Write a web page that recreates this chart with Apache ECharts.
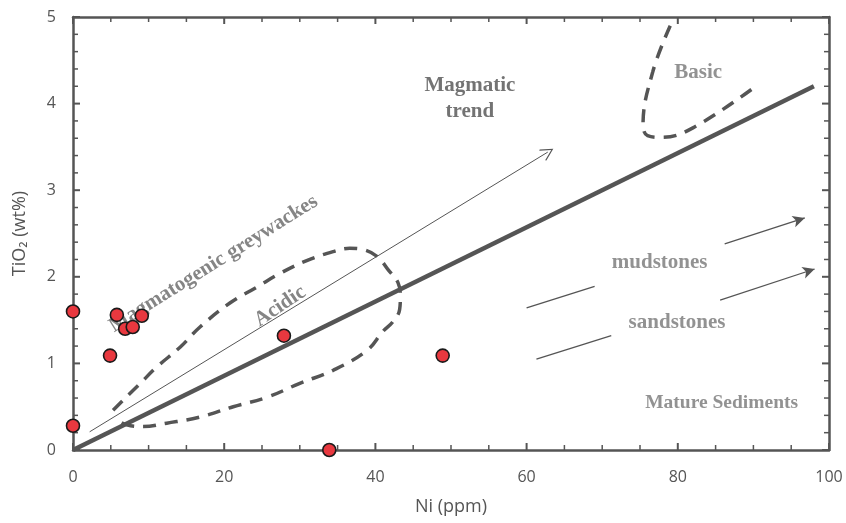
<!DOCTYPE html>
<html><head><meta charset="utf-8">
<script src="https://cdn.jsdelivr.net/npm/echarts@6/dist/echarts.min.js"></script>
<style>html,body{margin:0;padding:0;background:#fff}#c{width:846px;height:523px}</style>
</head><body><div id="c"></div>
<script>
// Samples: [Ni (ppm), TiO2 (wt%)]
const samples = [[0,1.6],[0,0.28],[4.9,1.09],[5.8,1.56],[6.9,1.4],[7.9,1.42],[9.1,1.55],[27.9,1.32],[33.9,0],[48.9,1.09]];
// Reference lines / fields
const sedimentLine = [[0,0],[98,4.2]];
const magmaticArrow = [[2.2,0.21],[62.8,3.44]];
const acidicField = [[5.3,0.46],[8.9,0.77],[11.1,0.96],[14.2,1.19],[16.8,1.42],[20.8,1.70],[24.3,1.88],[27.4,2.04],[31.0,2.19],[34.4,2.29],[36.6,2.33],[38.6,2.31],[40.3,2.23],[41.7,2.08],[43.0,1.93],[43.3,1.77],[43.2,1.62],[42.3,1.48],[41.0,1.37],[38.9,1.15],[34.4,0.92],[30.0,0.77],[25.7,0.61],[21.2,0.50],[16.8,0.38],[12.4,0.31],[9.3,0.27],[7.1,0.29],[5.8,0.35]];
const basicField = [[79.0,4.9],[76.7,4.37],[75.4,3.75],[76.0,3.63],[77.9,3.61],[82,3.72],[90,4.18]];
const mudTail = [[60,1.64],[69,1.89]];
const mudArrow = [[86.2,2.38],[96.8,2.68]];
const sandTail = [[61.3,1.05],[71.2,1.32]];
const sandArrow = [[85.6,1.73],[98.1,2.09]];
const labels = [
  {name:'Magmatic\ntrend', value:[52.5,4.06], rot:0, color:'#505050', size:21},
  {name:'Basic', value:[82.7,4.36], rot:0, color:'#777', size:21},
  {name:'Magmatogenic greywackes', value:[18.6,2.15], rot:32, color:'#666', size:21},
  {name:'Acidic', value:[27.4,1.66], rot:34, color:'#666', size:21},
  {name:'mudstones', value:[77.6,2.16], rot:0, color:'#777', size:21},
  {name:'sandstones', value:[79.9,1.47], rot:0, color:'#777', size:21},
  {name:'Mature Sediments', value:[85.8,0.54], rot:0, color:'#777', size:19.5}
];
const xTicks = [0,20,40,60,80,100];
const yTicks = [0,1,2,3,4,5];
const xMinorStep = 5;
const yMinorStep = 0.2;

const axisCol = '#555';
const chevron = 'path://M0,0 L10,13 L8.6,14 L0,2.6 L-8.6,14 L-10,13 Z';

// Build inward tick rows from the tick arrays: [x, y, dirX, dirY, lengthPx, widthPx]
const xMin = xTicks[0], xMax = xTicks[xTicks.length-1];
const yMin = yTicks[0], yMax = yTicks[yTicks.length-1];
const tickRows = [];
for (let i = 0; i <= Math.round((xMax - xMin) / xMinorStep); i++) {
  const v = xMin + i * xMinorStep;
  const major = xTicks.some(t => Math.abs(t - v) < 1e-9);
  tickRows.push([v, yMin, 0, -1, major ? 7 : 5, major ? 2 : 1.5]);
  tickRows.push([v, yMax, 0, 1, major ? 7 : 5, major ? 2 : 1.5]);
}
for (let i = 0; i <= Math.round((yMax - yMin) / yMinorStep); i++) {
  const v = +(yMin + i * yMinorStep).toFixed(6);
  const major = yTicks.some(t => Math.abs(t - v) < 1e-9);
  tickRows.push([xMin, v, 1, 0, major ? 7 : 5, major ? 2 : 1.5]);
  tickRows.push([xMax, v, -1, 0, major ? 7 : 5, major ? 2 : 1.5]);
}

const chart = echarts.init(document.getElementById('c'));
function axis(extra){
  return Object.assign({
    type:'value',
    axisLine:{show:true, onZero:false, lineStyle:{color:axisCol, width:2.5}},
    axisTick:{show:false},
    splitLine:{show:false}
  }, extra);
}
function seg(a, b){ return [{coord:a}, {coord:b}]; }
chart.setOption({
  animation:false,
  grid:{left:73, right:17, top:17, bottom:73},
  xAxis:[
    axis({min:xMin, max:xMax, interval:20, position:'bottom',
      name:'Ni (ppm)', nameLocation:'middle', nameGap:48,
      nameTextStyle:{fontFamily:'Open Sans', fontSize:18, color:axisCol},
      axisLabel:{fontFamily:'Open Sans', fontSize:16, color:axisCol, margin:19}}),
    axis({min:xMin, max:xMax, interval:20, position:'top', axisLabel:{show:false}})
  ],
  yAxis:[
    axis({min:yMin, max:yMax, interval:1, position:'left',
      name:'TiO\u2082 (wt%)', nameLocation:'middle', nameGap:44, nameRotate:90,
      nameTextStyle:{fontFamily:'Open Sans', fontSize:18, color:axisCol},
      axisLabel:{fontFamily:'Open Sans', fontSize:16, color:axisCol, margin:17}}),
    axis({min:yMin, max:yMax, interval:1, position:'right', axisLabel:{show:false}})
  ],
  series:[
    {type:'custom', data:tickRows, encode:{x:0, y:1}, silent:true, z:6, clip:false,
      renderItem:function(params, api){
        const p = api.coord([api.value(0), api.value(1)]);
        const L = api.value(4);
        return {type:'line', silent:true,
          shape:{x1:p[0], y1:p[1], x2:p[0] + api.value(2) * L, y2:p[1] + api.value(3) * L},
          style:{stroke:axisCol, lineWidth:api.value(5)}};
      }},
    {type:'line', data:sedimentLine, symbol:'none', lineStyle:{color:'#555', width:4.5}, z:3,
      markLine:{silent:true, animation:false, label:{show:false}, emphasis:{disabled:true},
        data:[seg(magmaticArrow[0], magmaticArrow[1])],
        symbol:['none', chevron], symbolSize:13, lineStyle:{color:'#555', width:1, type:'solid'}}},
    {type:'line', data:acidicField, smooth:0.4, symbol:'none', lineStyle:{color:'#555', width:3.5, type:[13,9]}, z:3},
    {type:'line', data:basicField, smooth:0.4, symbol:'none', lineStyle:{color:'#555', width:3.5, type:[13,9]}, z:3,
      markLine:{silent:true, animation:false, label:{show:false}, emphasis:{disabled:true},
        data:[seg(mudTail[0], mudTail[1]), seg(sandTail[0], sandTail[1])],
        symbol:['none','none'], lineStyle:{color:'#555', width:1.3, type:'solid'}}},
    {type:'line', data:[], symbol:'none', z:3,
      markLine:{silent:true, animation:false, label:{show:false}, emphasis:{disabled:true},
        data:[seg(mudArrow[0], mudArrow[1]), seg(sandArrow[0], sandArrow[1])],
        symbol:['none','arrow'], symbolSize:[9,12], lineStyle:{color:'#555', width:1.3, type:'solid'}}},
    {type:'scatter', data:labels.map(l=>({name:l.name, value:l.value,
        label:{show:true, position:'inside', formatter:'{b}', rotate:l.rot, color:l.color,
          fontFamily:'Liberation Serif', fontWeight:'bold', fontSize:l.size, lineHeight:26, align:'center', verticalAlign:'middle'}})),
      symbolSize:0, silent:true, z:4},
    {type:'scatter', data:samples, symbol:'circle', symbolSize:13,
      itemStyle:{color:'#e8383f', borderColor:'#1a1a1a', borderWidth:1.6, opacity:1}, z:7}
  ]
});
</script></body></html>
